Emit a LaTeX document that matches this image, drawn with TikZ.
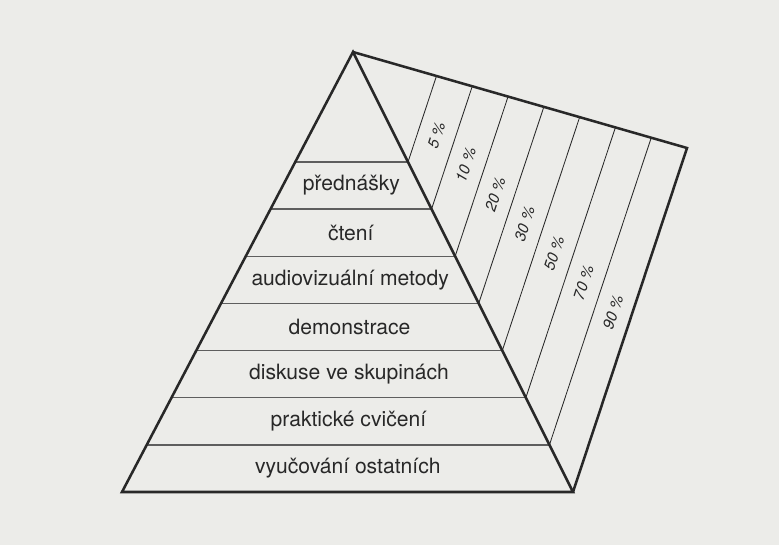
\documentclass[tikz,border=0pt]{standalone}
\usepackage{fontspec}
\setmainfont{TeX Gyre Heros}
\usepackage{tikz}
\usetikzlibrary{calc}
\definecolor{paper}{RGB}{236,236,233}
\definecolor{ink}{RGB}{40,40,40}

\begin{document}
\begin{tikzpicture}[x=0.025cm, y=-0.025cm,
    outline/.style={draw=ink, line width=1.8pt, line join=miter},
    band/.style={draw=ink!75, line width=1pt},
    share/.style={draw=ink, line width=0.6pt},
    level/.style={font=\fontsize{15}{18}\selectfont, text=ink, inner sep=0pt},
    pct/.style={font=\fontsize{11}{13}\selectfont\itshape, text=ink, rotate=72, inner sep=0pt}
  ]
    \fill[paper] (0,0) rectangle (779,545);
    \useasboundingbox (0,0) rectangle (779,545);
    % corners of the pyramid and of the side panel
    \coordinate (A) at (353,52);
    \coordinate (BL) at (122,492);
    \coordinate (BR) at (573,492);
    \coordinate (C) at (687,148);
    \coordinate (Bm) at ($(BL)!0.5!(BR)$);
    \coordinate (Pm) at ($(C)!0.52!(BR)$);
    % bands of the pyramid
    \draw[band] ($(A)!0.25!(BL)$) -- ($(A)!0.25!(BR)$);
    \draw[band] ($(A)!0.3571!(BL)$) -- ($(A)!0.3571!(BR)$);
    \draw[band] ($(A)!0.4643!(BL)$) -- ($(A)!0.4643!(BR)$);
    \draw[band] ($(A)!0.5714!(BL)$) -- ($(A)!0.5714!(BR)$);
    \draw[band] ($(A)!0.6786!(BL)$) -- ($(A)!0.6786!(BR)$);
    \draw[band] ($(A)!0.7857!(BL)$) -- ($(A)!0.7857!(BR)$);
    \draw[band] ($(A)!0.8929!(BL)$) -- ($(A)!0.8929!(BR)$);
    % strips of the side panel
    \draw[share] ($(A)!0.25!(BR)$) -- ($(A)!0.25!(C)$);
    \draw[share] ($(A)!0.3571!(BR)$) -- ($(A)!0.3571!(C)$);
    \draw[share] ($(A)!0.4643!(BR)$) -- ($(A)!0.4643!(C)$);
    \draw[share] ($(A)!0.5714!(BR)$) -- ($(A)!0.5714!(C)$);
    \draw[share] ($(A)!0.6786!(BR)$) -- ($(A)!0.6786!(C)$);
    \draw[share] ($(A)!0.7857!(BR)$) -- ($(A)!0.7857!(C)$);
    \draw[share] ($(A)!0.8929!(BR)$) -- ($(A)!0.8929!(C)$);
    % outlines
    \draw[outline] (A) -- (BL) -- (BR) -- cycle;
    \draw[outline] (A) -- (C) -- (BR);
    % methods
    \node[level] (lecture) at ($(A)!0.3036!(Bm)$) {přednášky};
    \node[level] (reading) at ($(A)!0.4107!(Bm)$) {čtení};
    \node[level] (av) at ($(A)!0.5179!(Bm)$) {audiovizuální metody};
    \node[level] (demo) at ($(A)!0.625!(Bm)$) {demonstrace};
    \node[level] (group) at ($(A)!0.7321!(Bm)$) {diskuse ve skupinách};
    \node[level] (practice) at ($(A)!0.8393!(Bm)$) {praktické cvičení};
    \node[level] (teach) at ($(A)!0.9464!(Bm)$) {vyučování ostatních};
    % retention
    \node[pct] (p5) at ($(A)!0.3036!(Pm)$) {5 \%};
    \node[pct] (p10) at ($(A)!0.4107!(Pm)$) {10 \%};
    \node[pct] (p20) at ($(A)!0.5179!(Pm)$) {20 \%};
    \node[pct] (p30) at ($(A)!0.625!(Pm)$) {30 \%};
    \node[pct] (p50) at ($(A)!0.7321!(Pm)$) {50 \%};
    \node[pct] (p70) at ($(A)!0.8393!(Pm)$) {70 \%};
    \node[pct] (p90) at ($(A)!0.9464!(Pm)$) {90 \%};
\end{tikzpicture}
\end{document}
